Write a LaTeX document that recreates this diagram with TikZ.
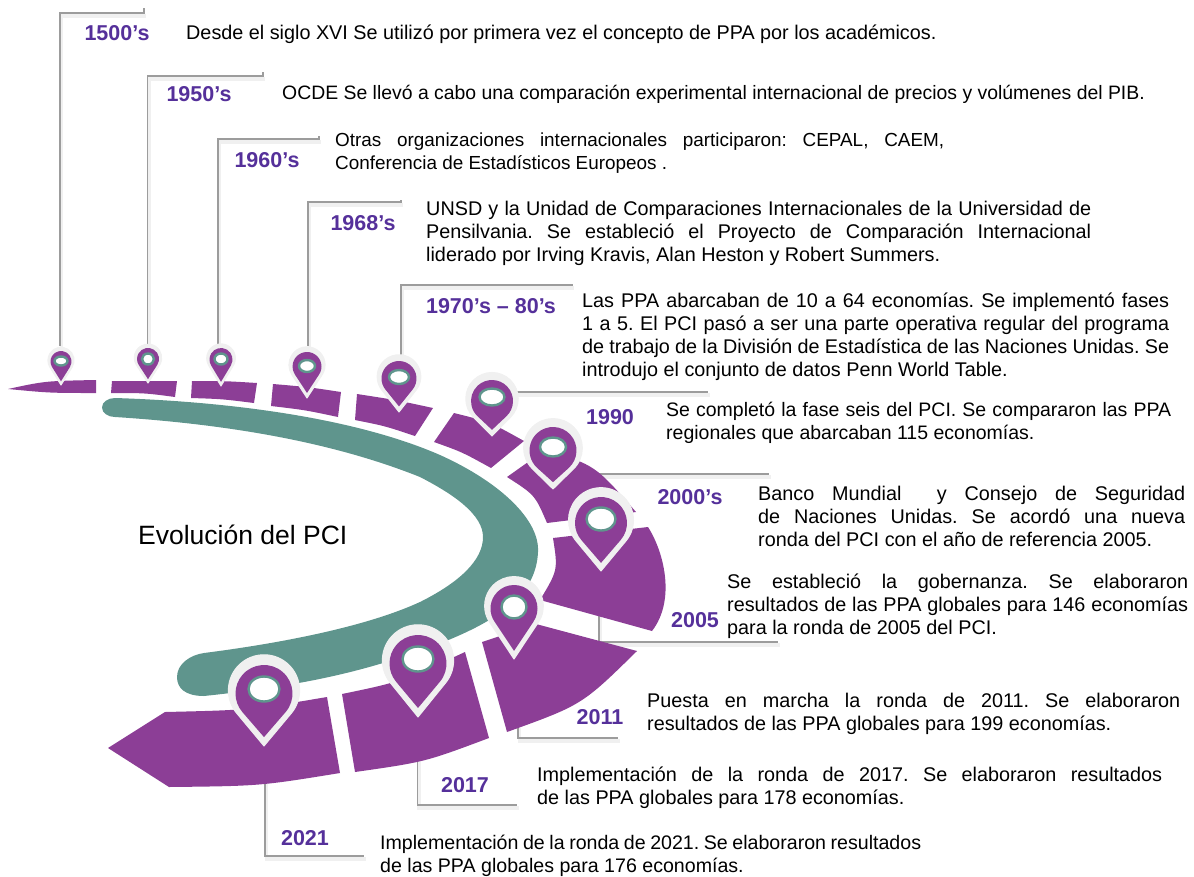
\documentclass[tikz,border=0pt]{standalone}
\usepackage{fontspec}
\setmainfont{Liberation Sans}
\definecolor{segpurple}{HTML}{8C3E96}
\definecolor{bandteal}{HTML}{5F958D}
\definecolor{yearpurple}{HTML}{55309A}
\definecolor{halogray}{HTML}{F0F0F0}
\definecolor{leadgray}{HTML}{9C9C9C}
\newcommand{\bodyfont}[1]{\fontsize{#1}{23}\selectfont\frenchspacing}
\tikzset{
  leader/.style={draw=leadgray, line width=1.2pt},
  leadershade/.style={draw=black!6, line width=3.5pt},
  year/.style={text=yearpurple, inner sep=0pt, font=\fontsize{21.5}{24}\selectfont\bfseries},
  body/.style={anchor=north west, inner sep=0pt, align=justify, font=\bodyfont{19.8}},
  plain/.style={anchor=north west, inner sep=0pt, font=\bodyfont{19.8}}
}
% teardrop: options, centre x, tip y, top y, width
\newcommand{\teardrop}[5]{%
  \pgfmathsetmacro{\tr}{#5/2}%
  \pgfmathsetmacro{\tcy}{#4+\tr}%
  \pgfmathsetmacro{\tb}{acos(\tr/(#3-\tcy))}%
  \path[#1] (#2,#3) -- ({#2+\tr*cos(90-\tb)},{\tcy+\tr*sin(90-\tb)})
  arc[start angle={90-\tb}, end angle={90+\tb-360}, radius=\tr] -- cycle;}
\begin{document}
\begin{tikzpicture}[x=1pt,y=-1pt]
  \useasboundingbox (0,0) rectangle (1194,876);

  % Leaders
  \foreach \nm/\px/\py/\ex/\ey/\tk in {a/60/346/144/13/5, b/147.5/344/263/76/4, c/218/344/319/139/3,
      d/308/346/401/202/2, e/401/356/572/285/1, f/500/392/708/392/0, g/580/474/769/474/0,
      h/599/610/778/642/0, i/518/725/618/738/0, j/417.5/750/517/805/0, k/265/775/364/856/0} {
    \coordinate (pin\nm) at (\px,\py);
    \coordinate (end\nm) at (\ex,\ey);
    \draw[leadershade, transform canvas={shift={(1.5pt,-3pt)}}] (pin\nm) |- (end\nm);
    \draw[leader] (pin\nm) |- (end\nm) -- ++(0,-\tk);
  }

  % Teal band
  \fill[bandteal] (115,398) .. controls (240,402) and (360,420) .. (440,455)
    .. controls (500,482) and (540,520) .. (538,552)
    .. controls (536,600) and (490,630) .. (383,663)
    .. controls (320,682) and (260,690) .. (204,696)
    .. controls (185,696) and (177,688) .. (177,677)
    .. controls (177,664) and (190,655) .. (204,653)
    .. controls (290,642) and (370,625) .. (420,602)
    .. controls (460,582) and (483,560) .. (483,537)
    .. controls (483,515) and (455,495) .. (420,477)
    .. controls (340,445) and (240,425) .. (115,417)
    .. controls (108,417) and (102,413) .. (102,407.5)
    .. controls (102,402) and (108,398) .. (115,398) -- cycle;

  % Purple road
  \fill[segpurple] (8,389) .. controls (45,381) .. (96,380) -- (96,393) .. controls (50,393) .. (8,389) -- cycle;
  \fill[segpurple] (112,381) -- (177,381) -- (175,397) .. controls (145,393) .. (111,393) -- cycle;
  \fill[segpurple] (192,381) .. controls (225,381) .. (257,383) -- (254,403) .. controls (222,399) .. (191,398) -- cycle;
  \fill[segpurple] (273,384) .. controls (308,387) .. (341,392) -- (338,417) .. controls (305,410) .. (271,406) -- cycle;
  \fill[segpurple] (357,394) .. controls (396,400) .. (433,408) -- (415,436) .. controls (385,426) .. (355,420) -- cycle;
  \fill[segpurple] (454,413) .. controls (490,422) .. (524,441) -- (491,468) .. controls (462,452) .. (434,442) -- cycle;
  \fill[segpurple] (507,477) -- (545,450) .. controls (595,465) .. (636,512) -- (547,523) .. controls (535,495) .. (507,477) -- cycle;
  \fill[segpurple] (553,538) -- (648,527) .. controls (664,552) and (676,600) .. (652,631) -- (540,600) .. controls (558,570) .. (553,538) -- cycle;
  \fill[segpurple] (482,642) -- (536,624) -- (637,651) .. controls (582,705) .. (507,732) -- cycle;
  \fill[segpurple] (342,694) .. controls (400,682) .. (465,652) -- (489,738) .. controls (425,762) .. (355,772) -- cycle;
  \fill[segpurple] (108,748) -- (165,712) .. controls (250,710) .. (327,697) -- (340,773) .. controls (260,786) .. (169,787) -- cycle;

  % Location pins
  \foreach \px/\ptp/\ptop/\pw/\hy/\rx/\ry in {61/385/351/21/361/6.5/4.5, 148/383/348/22/359/6/5.5, 221/386/348/23/359/6.5/5.5,
      307/398/352/29/366/8/6, 399/412/361/35/377/10/7, 492/436/380/42/397/12.5/8.5, 553/489/427/47/447/13/9.5,
      601/571/497/52/519/14.5/11.5, 514/659/585/47/607/12.5/11.5, 418/717/635/57/659/15.5/12.5, 264/746/665/57/689/15.5/12.5} {
    \pgfmathsetmacro{\htop}{\ptop-0.18*\pw}
    \pgfmathsetmacro{\hpw}{1.25*\pw}
    \pgfmathsetmacro{\inp}{\ptp-0.11*(\ptp-\ptop)}
    \teardrop{fill=halogray, draw=halogray, line width=1pt, line join=round}{\px}{\ptp}{\htop}{\hpw}
    \teardrop{fill=segpurple}{\px}{\inp}{\ptop}{\pw}
    \draw[fill=white, draw=bandteal, line width=2.4pt] (\px,\hy) ellipse [x radius=\rx, y radius=\ry];
  }

  % Years
  \node[year] (ya) at (117,33) {1500’s};
  \node[year] (yb) at (199,94) {1950’s};
  \node[year] (yc) at (267,160) {1960’s};
  \node[year] (yd) at (363,223) {1968’s};
  \node[year] (ye) at (491,306) {1970’s – 80’s};
  \node[year] (yf) at (610,417) {1990};
  \node[year] (yg) at (690,497) {2000’s};
  \node[year] (yh) at (695,620) {2005};
  \node[year] (yi) at (600,717) {2011};
  \node[year] (yj) at (465,785) {2017};
  \node[year] (yk) at (305,838) {2021};

  % Texts
  \node[plain] (ta) at (186,25) {Desde el siglo XVI Se utilizó por primera vez el concepto de PPA por los académicos.};
  \node[plain, font=\bodyfont{19.4}] (tb) at (282,85) {OCDE Se llevó a cabo una comparación experimental internacional de precios y volúmenes del PIB.};
  \node[body, text width=609pt, font=\bodyfont{18.9}] (tc) at (335,133) {Otras organizaciones internacionales participaron: CEPAL, CAEM,\linebreak Conferencia de Estadísticos Europeos .};
  \node[body, text width=665pt] (td) at (426,201) {UNSD y la Unidad de Comparaciones Internacionales de la Universidad de\linebreak Pensilvania. Se estableció el Proyecto de Comparación Internacional\linebreak liderado por Irving Kravis, Alan Heston y Robert Summers.};
  \node[body, text width=587pt] (te) at (582,293) {Las PPA abarcaban de 10 a 64 economías. Se implementó fases\linebreak 1 a 5. El PCI pasó a ser una parte operativa regular del programa\linebreak de trabajo de la División de Estadística de las Naciones Unidas. Se\linebreak introdujo el conjunto de datos Penn World Table.};
  \node[body, text width=505pt, font=\bodyfont{19.5}] (tf) at (666,402) {Se completó la fase seis del PCI. Se compararon las PPA\linebreak regionales que abarcaban 115 economías.};
  \node[body, text width=427pt] (tg) at (758,486) {Banco Mundial \ y Consejo de Seguridad\linebreak de Naciones Unidas. Se acordó una nueva\linebreak ronda del PCI con el año de referencia 2005.};
  \node[body, text width=461pt] (th) at (727,574) {Se estableció la gobernanza. Se elaboraron\linebreak resultados de las PPA globales para 146 economías\linebreak para la ronda de 2005 del PCI.};
  \node[body, text width=533pt] (ti) at (647,693) {Puesta en marcha la ronda de 2011. Se elaboraron\linebreak resultados de las PPA globales para 199 economías.};
  \node[body, text width=625pt] (tj) at (537,767) {Implementación de la ronda de 2017. Se elaboraron resultados\linebreak de las PPA globales para 178 economías.};
  \node[body, text width=541pt, font=\bodyfont{19.6}] (tk) at (380,835) {Implementación de la ronda de 2021. Se elaboraron resultados\linebreak de las PPA globales para 176 economías.};

  % Title
  \node[anchor=west, inner sep=0pt, font=\fontsize{26.5}{30}\selectfont] (title) at (138,535) {Evolución del PCI};
\end{tikzpicture}
\end{document}
